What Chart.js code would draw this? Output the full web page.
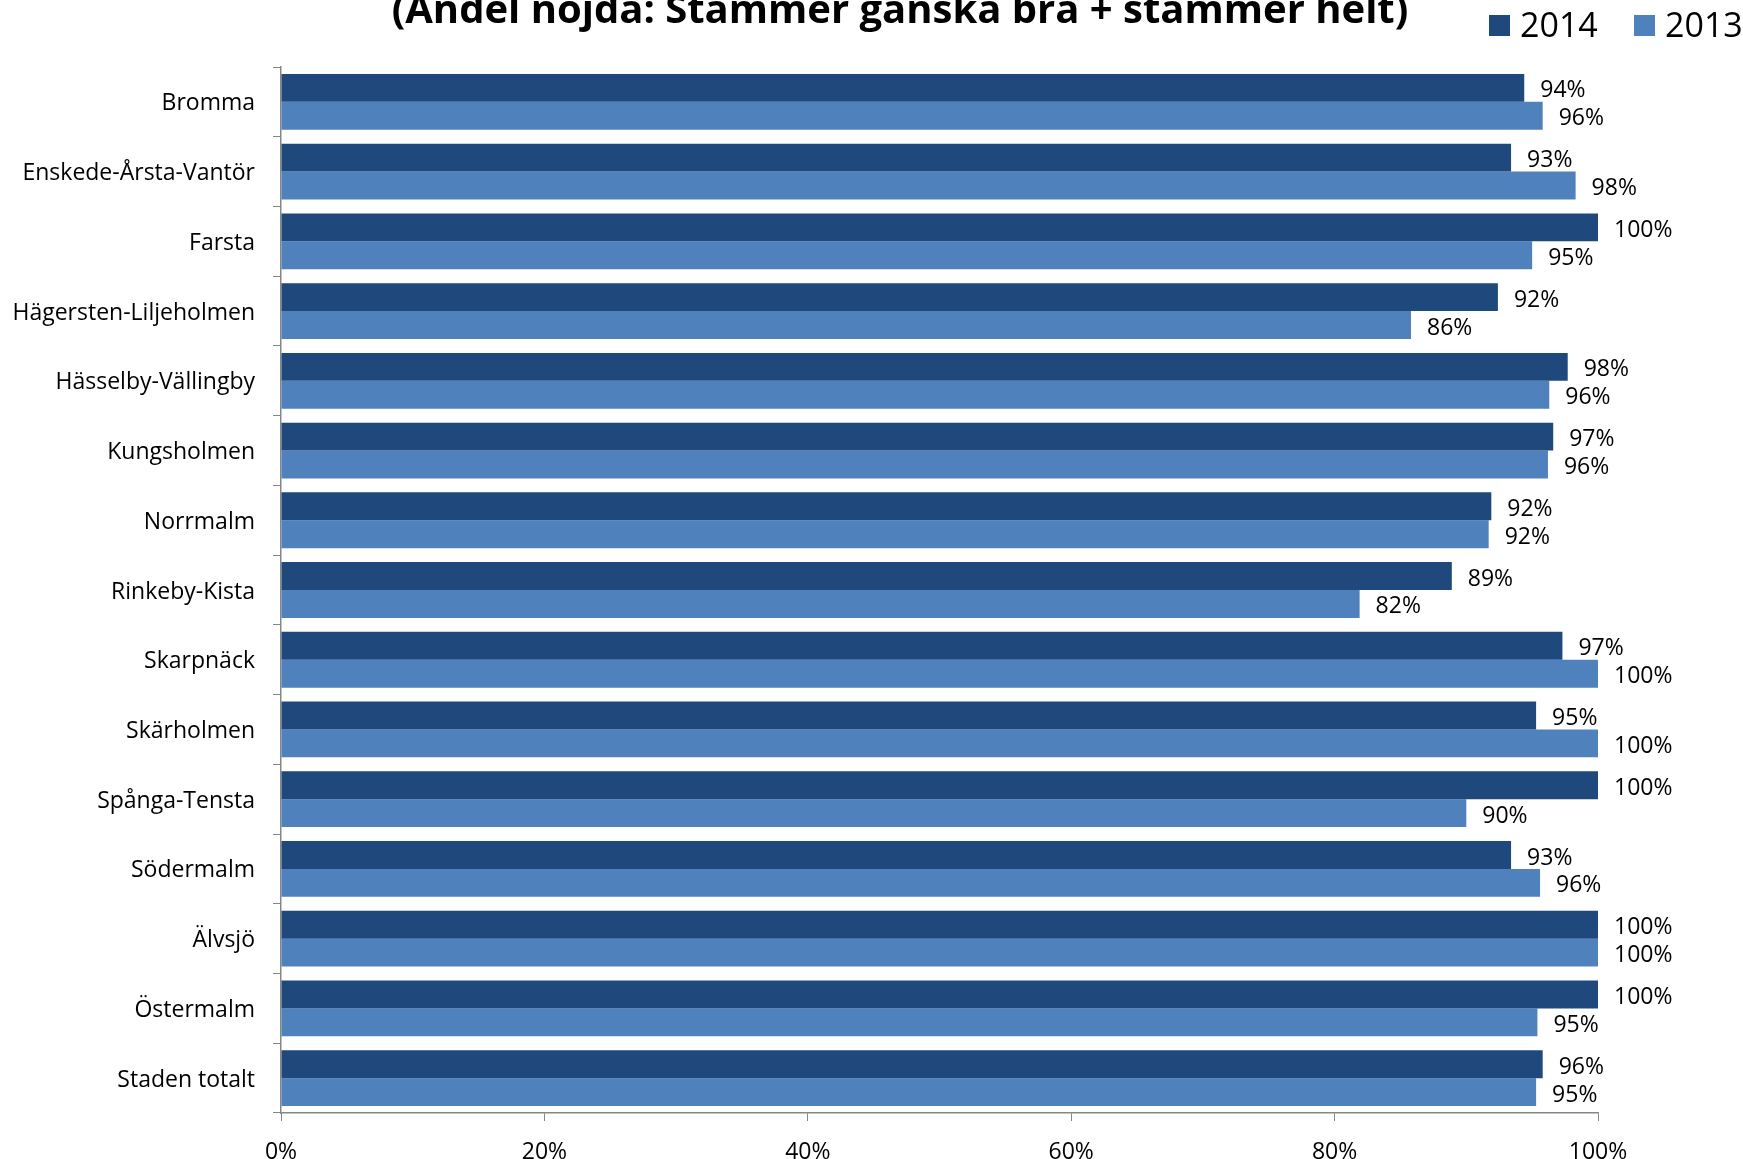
<!DOCTYPE html>
<html>
<head>
<meta charset="utf-8">
<script src="https://cdn.jsdelivr.net/npm/chart.js@4"></script>
<style>
  html, body { margin: 0; padding: 0; background: #fff; }
  #wrap { width: 1743px; height: 1159px; position: relative; }
</style>
</head>
<body>
<div id="wrap"><canvas id="c" width="1743" height="1159"></canvas></div>
<script>
const titleText = "(Andel nöjda: Stämmer ganska bra + stämmer helt)";
const categories = ["Bromma", "Enskede-Årsta-Vantör", "Farsta", "Hägersten-Liljeholmen", "Hässelby-Vällingby", "Kungsholmen", "Norrmalm", "Rinkeby-Kista", "Skarpnäck", "Skärholmen", "Spånga-Tensta", "Södermalm", "Älvsjö", "Östermalm", "Staden totalt"];
const seriesNames = ["2014", "2013"];
const values2014 = [94.4, 93.4, 100, 92.4, 97.7, 96.6, 91.9, 88.9, 97.3, 95.3, 100, 93.4, 100, 100, 95.8];
const values2013 = [95.8, 98.3, 95.0, 85.8, 96.3, 96.2, 91.7, 81.9, 100, 100, 90.0, 95.6, 100, 95.4, 95.3];
const xTicks = [0, 20, 40, 60, 80, 100];
const colors = ["#1F497D", "#4F81BD"];

const FONT = '"Open Sans", "DejaVu Sans", sans-serif';

const decor = {
  id: 'decor',
  afterDatasetsDraw(chart) {
    const ctx = chart.ctx;
    ctx.save();
    // data labels
    ctx.font = '23px ' + FONT;
    ctx.fillStyle = '#000';
    ctx.textAlign = 'left';
    ctx.textBaseline = 'middle';
    chart.data.datasets.forEach((ds, i) => {
      const meta = chart.getDatasetMeta(i);
      meta.data.forEach((bar, j) => {
        ctx.fillText(Math.round(ds.data[j]) + '%', bar.x + 16, bar.y + 3);
      });
    });
    // title (partly cut off at top, as in the reference)
    ctx.font = 'bold 40px ' + FONT;
    ctx.textAlign = 'center';
    ctx.textBaseline = 'alphabetic';
    ctx.fillText(titleText, 900, 23);
    // legend
    ctx.font = '34px ' + FONT;
    ctx.textAlign = 'left';
    const legendX = [1489, 1634];
    seriesNames.forEach((name, i) => {
      ctx.fillStyle = colors[i];
      ctx.fillRect(legendX[i], 15, 21, 21);
      ctx.fillStyle = '#000';
      ctx.fillText(name, legendX[i] + 31, 37);
    });
    ctx.restore();
  }
};

new Chart(document.getElementById('c'), {
  type: 'bar',
  data: {
    labels: categories,
    datasets: [
      { label: seriesNames[0], data: values2014, backgroundColor: colors[0], borderWidth: 0 },
      { label: seriesNames[1], data: values2013, backgroundColor: colors[1], borderWidth: 0 }
    ]
  },
  options: {
    indexAxis: 'y',
    responsive: false,
    animation: false,
    layout: { padding: { top: 67, right: 145, left: 0, bottom: 0 } },
    datasets: { bar: { categoryPercentage: 0.8, barPercentage: 1.0 } },
    plugins: {
      legend: { display: false },
      title: { display: false },
      tooltip: { enabled: false }
    },
    scales: {
      x: {
        min: 0, max: 100,
        afterBuildTicks(scale) { scale.ticks = xTicks.map(v => ({ value: v })); },
        afterFit(scale) { scale.height = 46; },
        ticks: {
          callback: v => v + '%',
          font: { family: FONT, size: 23 },
          color: '#000',
          padding: 18,
          maxRotation: 0
        },
        grid: { drawOnChartArea: false, drawTicks: true, tickLength: 8, color: '#868686', lineWidth: 1 },
        border: { display: true, color: '#868686', width: 1.5 }
      },
      y: {
        afterFit(scale) { scale.width = 281; },
        ticks: {
          font: { family: FONT, size: 23 },
          color: '#000',
          padding: 18,
          labelOffset: 2,
          autoSkip: false
        },
        grid: { drawOnChartArea: false, drawTicks: true, tickLength: 8, offset: true, color: '#868686', lineWidth: 1 },
        border: { display: true, color: '#868686', width: 1.5 }
      }
    }
  },
  plugins: [decor]
});
</script>
</body>
</html>
